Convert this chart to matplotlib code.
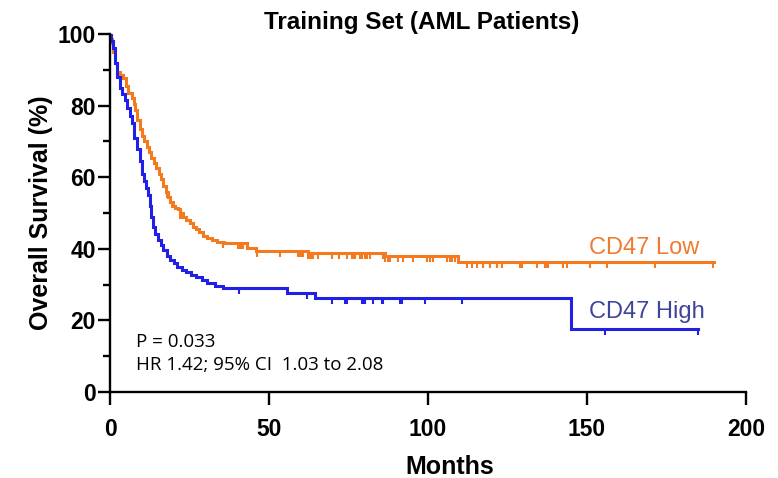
import numpy as np
import matplotlib
matplotlib.use("Agg")
import matplotlib.pyplot as plt
from matplotlib.path import Path

# ---- data ----
low_t = [0, 0.3, 0.6, 1, 1.5, 2.2, 3, 4, 5, 5.8, 6.8, 7.4, 7.9, 8.6, 9.4, 10, 10.8, 11.5, 12.2,
         13, 13.8, 14.5, 15.3, 16, 16.8, 17.5, 18.2, 19, 19.8, 20.5, 21.3, 22, 23, 24, 25, 26,
         27, 28, 29.3, 30.5, 32, 33.6, 36, 43, 46, 62.3, 86.5, 109.5, 190]
low_s = [100, 98.5, 97.5, 95, 92, 89.4, 88.5, 87.7, 85.5, 83.5, 82, 80.5, 78.8, 76, 73.5, 71.5,
         70, 68.5, 67, 65.5, 64, 62.5, 61, 59.5, 57.5, 56, 54.5, 53, 52, 51.5, 51, 50, 49, 48,
         47.2, 46.2, 45.4, 44.6, 43.6, 43, 42.5, 42, 41.5, 40.3, 39.5, 38.8, 38, 36.3, 36.3]
low_cens = [17.8, 18.9, 19.5, 22.0, 22.6, 35.6, 40.4, 40.9, 41.4, 41.9, 46.1, 53.5, 59.2, 59.7,
            60.3, 60.8, 62.3, 62.9, 63.4, 63.9, 65.5, 69.7, 72.0, 74.4, 76.0, 76.5, 77.0, 78.6,
            79.2, 80.2, 80.7, 81.8, 85.9, 86.5, 87.5, 88.1, 90.7, 92.2, 95.4, 99.6, 100.6, 101.7,
            105.9, 106.9, 107.4, 108.5, 112.3, 113.7, 115.4, 117.3, 119.5, 121.7, 123.3, 128.9,
            129.6, 134.3, 136.8, 137.4, 137.7, 142.5, 143.7, 150.9, 156.3, 171.4, 189.6]

high_t = [0, 0.4, 1, 1.6, 2.2, 3.1, 3.9, 4.7, 5.5, 6.3, 6.9, 7.7, 8.5, 9.3, 10, 10.7, 11.4, 12,
          12.6, 13, 13.5, 14.2, 15, 16, 16.7, 17.8, 18.9, 20, 21, 22.5, 24, 25.5, 27, 28.8,
          30.5, 33, 35.5, 55.6, 64.5, 145, 185]
high_s = [100, 98, 96, 92, 88, 85, 83.3, 81.6, 79.3, 77, 75, 71, 68, 64.5, 61, 59, 57, 55,
          52, 49, 46, 44, 42.5, 41, 39.7, 38, 37, 36, 35, 34.2, 33.5, 32.8, 32, 31.2, 30.4,
          29.7, 29, 27.7, 26.3, 17.7, 17.7]
high_cens = [40.6, 61.8, 69.7, 73.9, 74.4, 79.2, 79.7, 80.2, 82.8, 85.4, 85.9, 91.2, 91.7,
             99.1, 110.8, 155.6, 185]

x_ticks = [0, 50, 100, 150, 200]
y_ticks = [0, 20, 40, 60, 80, 100]

c_low = "#F47A20"
c_high = "#2020E6"
bold_font = ["Liberation Sans", "DejaVu Sans"]

# ---- figure ----
fig = plt.figure(figsize=(7.78, 4.78), dpi=100)
ax = fig.add_axes([0.1414, 0.1799, 0.8175, 0.749])

down_tick = Path([(0, 0), (0, -1)], [Path.MOVETO, Path.LINETO])


def surv_at(ts, ss, t):
    i = np.searchsorted(ts, t, side="right") - 1
    return np.asarray(ss)[i]


for ts, ss, cens, col in [(low_t, low_s, low_cens, c_low), (high_t, high_s, high_cens, c_high)]:
    ax.step(ts, ss, where="post", color=col, lw=2.2, solid_joinstyle="miter")
    cy = [surv_at(np.asarray(ts), ss, t) for t in cens]
    ax.plot(cens, cy, linestyle="none", marker=down_tick, markersize=9,
            markeredgecolor=col, markeredgewidth=1.5)

ax.set_xlim(0, 200)
ax.set_ylim(0, 100)
ax.set_xticks(x_ticks)
ax.set_yticks(y_ticks)
ax.set_yticks(np.arange(10, 100, 20), minor=True)
ax.spines["top"].set_visible(False)
ax.spines["right"].set_visible(False)
for s in ["left", "bottom"]:
    ax.spines[s].set_linewidth(1.7)
ax.tick_params(axis="both", which="major", direction="out", length=9, width=1.7,
               labelsize=16.5)
ax.tick_params(axis="both", which="minor", direction="out", length=5, width=1.7)
ax.tick_params(axis="y", pad=1)
ax.tick_params(axis="x", pad=10)
for lab in ax.get_xticklabels() + ax.get_yticklabels():
    lab.set_fontweight("bold")
    lab.set_family(bold_font)

ax.set_xlabel("Months", fontsize=18, fontweight="bold", family=bold_font, va="top")
ax.xaxis.set_label_coords(0.5346, -0.177)
ax.set_ylabel("Overall Survival (%)", fontsize=18, fontweight="bold", family=bold_font,
              va="center")
ax.yaxis.set_label_coords(-0.109, 0.5)
fig.text(0.5424, 0.94, "Training Set (AML Patients)", ha="center", va="baseline",
         fontsize=17.5, fontweight="bold", family=bold_font)

ax.text(150.6, 38.5, "CD47 Low", color="#F07A30", fontsize=17, family="Liberation Sans",
        ha="left", va="baseline")
ax.text(150.6, 20.7, "CD47 High", color="#3C449C", fontsize=17, family="Liberation Sans",
        ha="left", va="baseline")

ax.text(8.3, 12.6, "P = 0.033", fontsize=13.5, family="Open Sans", ha="left", va="baseline")
ax.text(8.3, 6.1, "HR 1.42; 95% CI  1.03 to 2.08", fontsize=13.5, family="Open Sans",
        ha="left", va="baseline")

fig.savefig("out.png", dpi=100)
